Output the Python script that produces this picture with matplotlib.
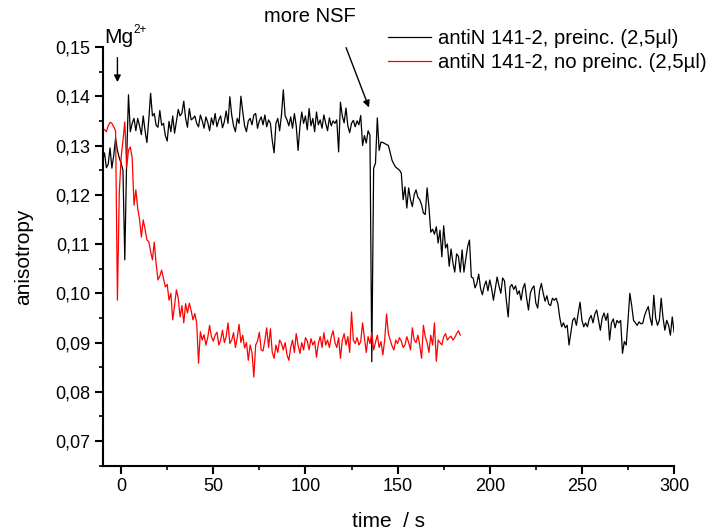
import numpy as np
import matplotlib
matplotlib.use("Agg")
import matplotlib.pyplot as plt
from matplotlib.ticker import MultipleLocator, FuncFormatter

plt.rcParams['font.family'] = ['Liberation Sans', 'DejaVu Sans']

# anisotropy traces, one reading per second
t_black_start, t_black_end = -10, 300
black = [
    0.1270, 0.1285, 0.1255, 0.1262, 0.1295, 0.1254, 0.1280, 0.1315, 0.1290, 0.1275,
    0.1264, 0.1250, 0.1068, 0.1270, 0.1403, 0.1328, 0.1345, 0.1355, 0.1330, 0.1355,
    0.1340, 0.1322, 0.1360, 0.1330, 0.1306, 0.1352, 0.1406, 0.1360, 0.1365, 0.1341,
    0.1337, 0.1371, 0.1341, 0.1345, 0.1320, 0.1309, 0.1349, 0.1328, 0.1360, 0.1325,
    0.1349, 0.1373, 0.1360, 0.1366, 0.1390, 0.1355, 0.1337, 0.1375, 0.1352, 0.1355,
    0.1360, 0.1345, 0.1338, 0.1362, 0.1350, 0.1335, 0.1358, 0.1347, 0.1330, 0.1356,
    0.1342, 0.1365, 0.1338, 0.1352, 0.1360, 0.1336, 0.1348, 0.1370, 0.1345, 0.1399,
    0.1362, 0.1340, 0.1328, 0.1355, 0.1345, 0.1400, 0.1368, 0.1340, 0.1328, 0.1350,
    0.1355, 0.1342, 0.1362, 0.1365, 0.1335, 0.1350, 0.1358, 0.1342, 0.1362, 0.1338,
    0.1352, 0.1345, 0.1310, 0.1285, 0.1345, 0.1355, 0.1330, 0.1362, 0.1413, 0.1360,
    0.1352, 0.1340, 0.1358, 0.1335, 0.1365, 0.1340, 0.1290, 0.1338, 0.1368, 0.1345,
    0.1360, 0.1332, 0.1375, 0.1340, 0.1355, 0.1328, 0.1368, 0.1342, 0.1352, 0.1335,
    0.1362, 0.1345, 0.1330, 0.1356, 0.1340, 0.1350, 0.1345, 0.1352, 0.1287, 0.1388,
    0.1360, 0.1346, 0.1376, 0.1340, 0.1326, 0.1345, 0.1351, 0.1338, 0.1350, 0.1342,
    0.1361, 0.1300, 0.1320, 0.1305, 0.1330, 0.1321, 0.0861, 0.1254, 0.1264, 0.1356,
    0.1290, 0.1307, 0.1306, 0.1304, 0.1302, 0.1300, 0.1285, 0.1270, 0.1262, 0.1256,
    0.1253, 0.1250, 0.1244, 0.1190, 0.1216, 0.1173, 0.1214, 0.1190, 0.1176, 0.1200,
    0.1210, 0.1195, 0.1190, 0.1180, 0.1163, 0.1160, 0.1214, 0.1175, 0.1124, 0.1130,
    0.1120, 0.1135, 0.1102, 0.1128, 0.1074, 0.1137, 0.1092, 0.1100, 0.1055, 0.1090,
    0.1062, 0.1043, 0.1080, 0.1075, 0.1043, 0.1088, 0.1043, 0.1070, 0.1095, 0.1108,
    0.1033, 0.1031, 0.1011, 0.1020, 0.1039, 0.1010, 0.0997, 0.1015, 0.1025, 0.1005,
    0.1027, 0.1010, 0.0986, 0.1010, 0.1033, 0.1015, 0.1000, 0.1031, 0.1025, 0.0985,
    0.0952, 0.1013, 0.1018, 0.1008, 0.1015, 0.0998, 0.1005, 0.0986, 0.1010, 0.1020,
    0.0990, 0.0966, 0.1000, 0.1010, 0.1015, 0.0980, 0.0970, 0.1005, 0.1020, 0.1000,
    0.0984, 0.0995, 0.0978, 0.0975, 0.0990, 0.0986, 0.0990, 0.0978, 0.0950, 0.0932,
    0.0940, 0.0930, 0.0935, 0.0895, 0.0920, 0.0945, 0.0950, 0.0935, 0.0960, 0.0982,
    0.0945, 0.0932, 0.0940, 0.0932, 0.0948, 0.0955, 0.0940, 0.0958, 0.0966, 0.0945,
    0.0925, 0.0950, 0.0960, 0.0945, 0.0959, 0.0905, 0.0940, 0.0948, 0.0930, 0.0945,
    0.0940, 0.0945, 0.0878, 0.0902, 0.0895, 0.0945, 0.1000, 0.0975, 0.0945, 0.0940,
    0.0935, 0.0942, 0.0938, 0.0939, 0.0955, 0.0965, 0.0973, 0.0950, 0.0935, 0.0996,
    0.0950, 0.0935, 0.0945, 0.0990, 0.0950, 0.0925, 0.0945, 0.0935, 0.0915, 0.0952,
    0.0921,
]

t_red_start, t_red_end = -10, 184
red = [
    0.1335, 0.1332, 0.1328, 0.1340, 0.1347, 0.1345, 0.1338, 0.1330, 0.0986, 0.1203,
    0.1275, 0.1310, 0.1348, 0.1256, 0.1290, 0.1297, 0.1275, 0.1179, 0.1210, 0.1173,
    0.1150, 0.1114, 0.1149, 0.1130, 0.1108, 0.1105, 0.1085, 0.1068, 0.1104, 0.1060,
    0.1027, 0.1035, 0.1047, 0.1030, 0.1013, 0.1018, 0.0986, 0.1000, 0.0946, 0.0975,
    0.1007, 0.0990, 0.0952, 0.0975, 0.0940, 0.0979, 0.0960, 0.0980, 0.0965, 0.0946,
    0.0959, 0.0940, 0.0858, 0.0922, 0.0905, 0.0916, 0.0895, 0.0910, 0.0935, 0.0912,
    0.0903, 0.0915, 0.0921, 0.0895, 0.0905, 0.0925, 0.0900, 0.0912, 0.0940, 0.0898,
    0.0905, 0.0920, 0.0890, 0.0910, 0.0937, 0.0900, 0.0915, 0.0889, 0.0900, 0.0864,
    0.0895, 0.0880, 0.0830, 0.0895, 0.0903, 0.0921, 0.0885, 0.0883, 0.0905, 0.0930,
    0.0890, 0.0928, 0.0880, 0.0868, 0.0895, 0.0880, 0.0905, 0.0898, 0.0885, 0.0900,
    0.0875, 0.0864, 0.0890, 0.0905, 0.0880, 0.0918, 0.0895, 0.0878, 0.0900, 0.0885,
    0.0910, 0.0903, 0.0885, 0.0908, 0.0895, 0.0903, 0.0870, 0.0898, 0.0912, 0.0890,
    0.0920, 0.0895, 0.0905, 0.0890, 0.0912, 0.0924, 0.0900, 0.0890, 0.0910, 0.0868,
    0.0905, 0.0918, 0.0895, 0.0912, 0.0880, 0.0962, 0.0905, 0.0898, 0.0910, 0.0895,
    0.0902, 0.0940, 0.0910, 0.0880, 0.0912, 0.0898, 0.0920, 0.0885, 0.0900, 0.0915,
    0.0890, 0.0902, 0.0875, 0.0905, 0.0958, 0.0918, 0.0905, 0.0893, 0.0885, 0.0905,
    0.0898, 0.0910, 0.0903, 0.0890, 0.0895, 0.0912, 0.0900, 0.0885, 0.0930, 0.0905,
    0.0900, 0.0915, 0.0895, 0.0868, 0.0935, 0.0912, 0.0900, 0.0880, 0.0915, 0.0895,
    0.0940, 0.0862, 0.0905, 0.0900, 0.0895, 0.0912, 0.0918, 0.0905, 0.0910, 0.0913,
    0.0905, 0.0910, 0.0918, 0.0924, 0.0915,
]

label_black = 'antiN 141-2, preinc. (2,5µl)'
label_red = 'antiN 141-2, no preinc. (2,5µl)'
x_ticks = [0, 50, 100, 150, 200, 250, 300]
y_ticks = [0.07, 0.08, 0.09, 0.10, 0.11, 0.12, 0.13, 0.14, 0.15]

t_black = np.arange(t_black_start, t_black_end + 1)
t_red = np.arange(t_red_start, t_red_end + 1)
assert len(t_black) == len(black) and len(t_red) == len(red)

fig = plt.figure(figsize=(7.14, 5.32), dpi=100)
ax = fig.add_axes([0.1438, 0.1246, 0.8003, 0.7871])

ax.plot(t_black, black, color='black', lw=0.9, label=label_black)
ax.plot(t_red, red, color='red', lw=0.9, label=label_red)

ax.set_xlim(-10, 300)
ax.set_ylim(0.065, 0.15)
ax.set_xticks(x_ticks)
ax.set_yticks(y_ticks)
ax.xaxis.set_minor_locator(MultipleLocator(25))
ax.yaxis.set_minor_locator(MultipleLocator(0.005))
ax.yaxis.set_major_formatter(FuncFormatter(lambda v, p: f'{v:.2f}'.replace('.', ',')))

for s in ['top', 'right']:
    ax.spines[s].set_visible(False)
for s in ['left', 'bottom']:
    ax.spines[s].set_linewidth(1.5)
ax.tick_params(which='major', direction='out', length=6, width=1.5, labelsize=13, pad=3)
ax.tick_params(which='minor', direction='out', length=3, width=1.2)

ax.set_xlabel('time  / s', fontsize=15, labelpad=12)
ax.set_ylabel('anisotropy', fontsize=15, labelpad=16)

# event markers
ax.text(-9.3, 0.1508, 'Mg', fontsize=15, ha='left', va='baseline', clip_on=False)
ax.text(6.5, 0.1528, '2+', fontsize=8.5, ha='left', va='baseline', clip_on=False)
ax.annotate('', xy=(-2, 0.1423), xytext=(-2, 0.1484), annotation_clip=False,
            arrowprops=dict(arrowstyle='-|>', color='black', lw=1, mutation_scale=10))
ax.text(102.5, 0.1561, 'more NSF', fontsize=14.5, ha='center', va='center', clip_on=False)
ax.annotate('', xy=(135, 0.1372), xytext=(121.5, 0.1504), annotation_clip=False,
            arrowprops=dict(arrowstyle='-|>', color='black', lw=1, mutation_scale=10))

fig.legend(loc='upper left', bbox_to_anchor=(388 / 714, 1 - 29 / 532), frameon=False,
           fontsize=14.6, handlelength=2.1, handletextpad=0.35, labelspacing=0.25,
           borderpad=0, borderaxespad=0)

fig.savefig('out.png', dpi=100)
